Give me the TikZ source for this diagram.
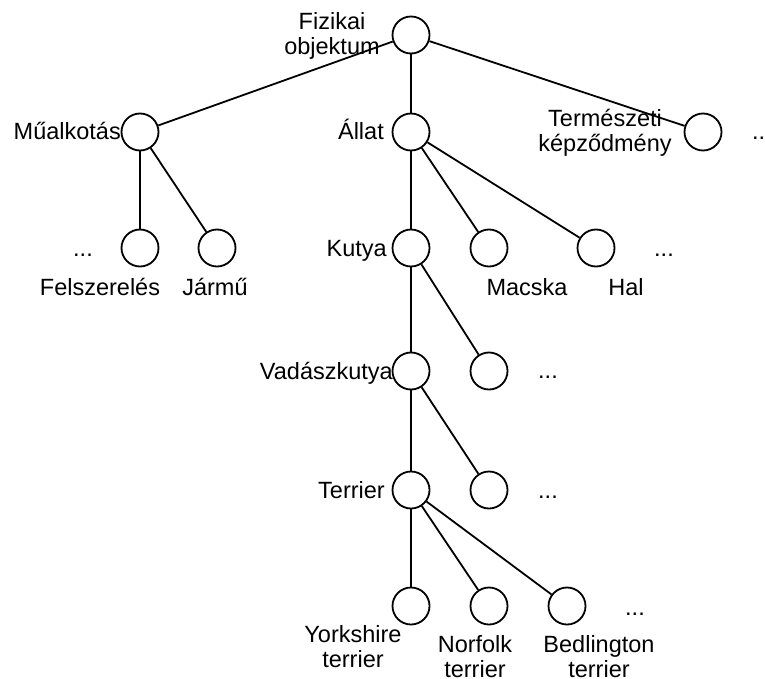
\documentclass[tikz,border=0pt]{standalone}
\usepackage{fontspec}
\setmainfont{Liberation Sans}
\begin{document}
\begin{tikzpicture}[x=1pt,y=-1pt,
  concept/.style={circle,draw,line width=1.8pt,minimum size=37pt,inner sep=0pt},
  lbl/.style={inner sep=0pt,font=\fontsize{23.5}{25.5}\selectfont,align=center},
  link/.style={line width=1.8pt}]
\useasboundingbox (0,0) rectangle (765,679);
\clip (0,0) rectangle (765,679);

% concept circles
\node[concept] (fiz) at (411,35) {};
\node[concept] (mu)  at (140,132) {};
\node[concept] (all) at (411,132) {};
\node[concept] (ter) at (703,132) {};
\node[concept] (fel) at (140,248) {};
\node[concept] (jar) at (217,248) {};
\node[concept] (kut) at (411,248) {};
\node[concept] (mac) at (489,248) {};
\node[concept] (hal) at (596,248) {};
\node[concept] (vad) at (411,371) {};
\node[concept] (vadx) at (489,371) {};
\node[concept] (trr) at (411,490) {};
\node[concept] (trrx) at (489,490) {};
\node[concept] (yor) at (411,606) {};
\node[concept] (nor) at (489,606) {};
\node[concept] (bed) at (567,606) {};

% hierarchy links
\draw[link] (fiz) -- (mu);
\draw[link] (fiz) -- (all);
\draw[link] (fiz) -- (ter);
\draw[link] (mu) -- (fel);
\draw[link] (mu) -- (jar);
\draw[link] (all) -- (kut);
\draw[link] (all) -- (mac);
\draw[link] (all) -- (hal);
\draw[link] (kut) -- (vad);
\draw[link] (kut) -- (vadx);
\draw[link] (vad) -- (trr);
\draw[link] (vad) -- (trrx);
\draw[link] (trr) -- (yor);
\draw[link] (trr) -- (nor);
\draw[link] (trr) -- (bed);

% labels beside the circles (base = baseline of the last line)
\node[lbl,anchor=base] (tfiz) at (332,55) {Fizikai\\objektum};
\node[lbl,anchor=base east] (tmu) at (121,140) {Műalkotás};
\node[lbl,anchor=base east] (tall) at (384,140) {Állat};
\node[lbl,anchor=base] (tter) at (605,152) {Természeti\\képződmény};
\node[lbl,anchor=base east] (tkut) at (387,256) {Kutya};
\node[lbl,anchor=base east] (tvad) at (393,379) {Vadászkutya};
\node[lbl,anchor=base east] (ttrr) at (385,498) {Terrier};

% labels under the circles
\node[lbl,anchor=base] (tfel) at (100,295) {Felszerelés};
\node[lbl,anchor=base] (tjar) at (215,295) {Jármű};
\node[lbl,anchor=base] (tmac) at (527,295) {Macska};
\node[lbl,anchor=base] (thal) at (626,295) {Hal};
\node[lbl,anchor=base] (tyor) at (353,667.5) {Yorkshire\\terrier};
\node[lbl,anchor=base] (tnor) at (475,677.5) {Norfolk\\terrier};
\node[lbl,anchor=base] (tbed) at (599,677.5) {Bedlington\\terrier};

% continuation marks
\node[lbl,anchor=base] (d1) at (83,256) {...};
\node[lbl,anchor=base] (d2) at (664,256) {...};
\node[lbl,anchor=base] (d3) at (548,378) {...};
\node[lbl,anchor=base] (d4) at (548,498) {...};
\node[lbl,anchor=base] (d5) at (635,615) {...};
\node[lbl,anchor=base west] (d6) at (752,140) {...};
\end{tikzpicture}
\end{document}
